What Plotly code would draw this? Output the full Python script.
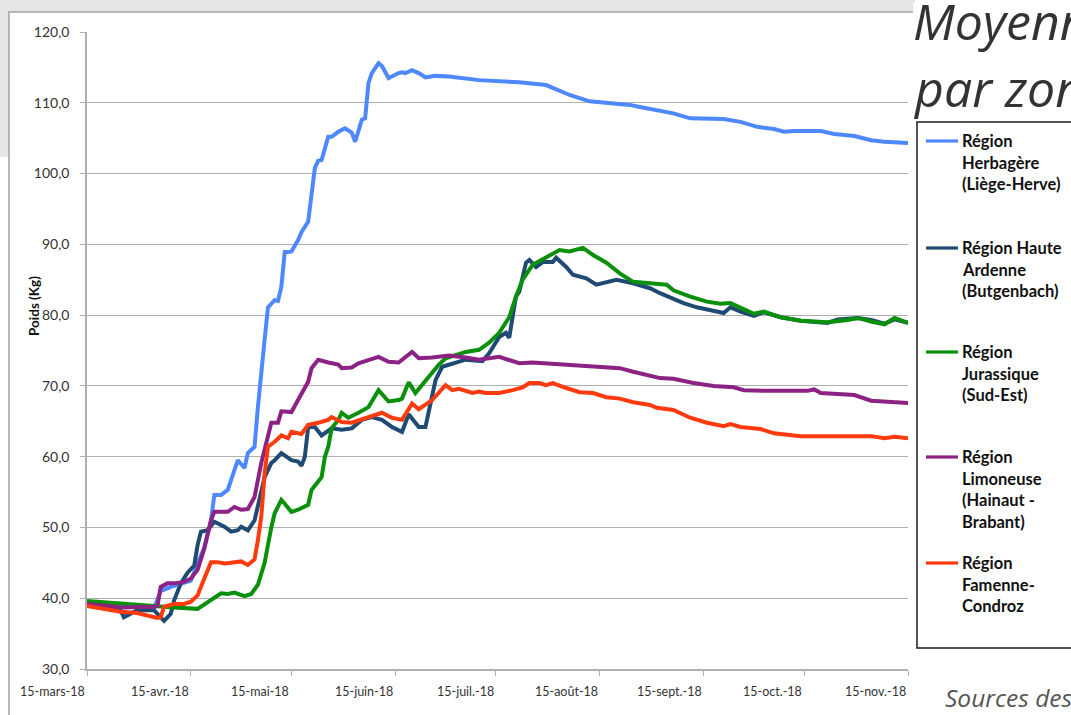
import plotly.graph_objects as go

# ---- data (poids moyen en kg) ----
herbagere_dates = ["03-15", "03-25", "04-04", "04-06", "04-09", "04-15", "04-19", "04-21", "04-22", "04-24",
                   "04-26", "04-27", "04-29", "05-01", "05-02", "05-04", "05-05", "05-07", "05-08", "05-10",
                   "05-11", "05-12", "05-13", "05-14", "05-15", "05-17", "05-18", "05-20", "05-21", "05-22",
                   "05-23", "05-24", "05-26", "05-27", "05-29", "05-31", "06-02", "06-03", "06-04", "06-05",
                   "06-06", "06-07", "06-08", "06-10", "06-11", "06-12", "06-13", "06-16", "06-17", "06-18",
                   "06-20", "06-22", "06-24", "06-27", "07-01", "07-10", "07-22", "07-30", "08-06", "08-12",
                   "08-18", "08-24", "08-27", "09-06", "09-11", "09-16", "09-21", "09-26", "10-01", "10-06",
                   "10-09", "10-12", "10-20", "10-24", "10-30", "11-04", "11-08", "11-15"]
herbagere_kg = [39.3, 38.9, 38.6, 41.0, 41.6, 42.5, 47.2, 51.0, 54.6, 54.6,
                55.3, 56.7, 59.5, 58.4, 60.5, 61.4, 67.0, 76.5, 81.1, 82.1,
                82.0, 84.0, 88.9, 88.9, 89.0, 90.6, 91.7, 93.2, 97.0, 100.8,
                101.8, 101.9, 105.2, 105.2, 105.9, 106.4, 105.8, 104.5, 106.0, 107.6,
                107.8, 112.8, 114.2, 115.6, 115.2, 114.3, 113.5, 114.2, 114.3, 114.2,
                114.6, 114.2, 113.6, 113.8, 113.7, 113.2, 112.9, 112.5, 111.1, 110.2,
                110.0, 109.7, 109.4, 108.5, 107.8, 107.7, 107.7, 107.3, 106.6, 106.3,
                105.9, 106.0, 106.0, 105.6, 105.3, 104.7, 104.5, 104.3]

ardenne_dates = ["03-15", "03-19", "03-25", "03-26", "03-30", "04-04", "04-07", "04-09", "04-10", "04-12",
                 "04-14", "04-16", "04-17", "04-18", "04-20", "04-22", "04-25", "04-27", "04-29", "04-30",
                 "05-02", "05-04", "05-05", "05-07", "05-09", "05-10", "05-12", "05-15", "05-17", "05-18",
                 "05-19", "05-20", "05-22", "05-24", "05-27", "05-30", "06-02", "06-05", "06-08", "06-11",
                 "06-14", "06-17", "06-19", "06-22", "06-24", "06-26", "06-27", "06-29", "07-01", "07-06",
                 "07-11", "07-13", "07-16", "07-18", "07-19", "07-21", "07-22", "07-24", "07-25", "07-27",
                 "07-29", "08-01", "08-02", "08-05", "08-07", "08-11", "08-14", "08-17", "08-20", "08-25",
                 "08-30", "09-02", "09-09", "09-13", "09-21", "09-23", "09-26", "09-30", "10-03", "10-08",
                 "10-14", "10-22", "10-25", "10-31", "11-04", "11-08", "11-11", "11-15"]
ardenne_kg = [39.5, 39.0, 38.3, 37.3, 38.3, 38.3, 36.8, 37.8, 39.7, 42.1,
              43.6, 44.6, 47.5, 49.4, 49.6, 50.8, 50.1, 49.4, 49.6, 50.1,
              49.6, 51.0, 52.9, 57.1, 59.1, 59.5, 60.5, 59.5, 59.3, 58.7,
              60.0, 64.2, 64.2, 63.0, 64.0, 63.8, 64.0, 65.2, 65.6, 65.2,
              64.2, 63.5, 66.0, 64.2, 64.2, 68.4, 70.8, 72.7, 73.0, 73.7,
              73.5, 74.6, 76.9, 77.5, 76.8, 82.6, 83.3, 87.4, 87.8, 86.8,
              87.5, 87.5, 88.1, 86.8, 85.7, 85.2, 84.3, 84.7, 85.0, 84.5,
              83.8, 83.1, 81.7, 81.1, 80.3, 81.1, 80.5, 79.9, 80.4, 79.7,
              79.2, 78.9, 79.4, 79.6, 79.3, 78.8, 79.4, 78.9]

jurassique_dates = ["03-15", "03-25", "04-04", "04-10", "04-17", "04-21", "04-24", "04-26", "04-28", "05-01",
                    "05-03", "05-05", "05-07", "05-09", "05-10", "05-12", "05-15", "05-17", "05-20", "05-21",
                    "05-24", "05-25", "05-26", "05-27", "05-29", "05-30", "06-01", "06-04", "06-07", "06-10",
                    "06-13", "06-16", "06-17", "06-19", "06-21", "06-25", "06-28", "06-30", "07-06", "07-10",
                    "07-13", "07-16", "07-19", "07-21", "07-23", "07-26", "07-30", "08-03", "08-06", "08-10",
                    "08-13", "08-17", "08-21", "08-25", "08-30", "09-04", "09-06", "09-11", "09-16", "09-20",
                    "09-23", "09-26", "09-30", "10-03", "10-08", "10-14", "10-22", "10-28", "10-31", "11-04",
                    "11-08", "11-11", "11-15"]
jurassique_kg = [39.6, 39.2, 38.8, 38.7, 38.5, 39.7, 40.7, 40.6, 40.8, 40.3,
                 40.6, 41.9, 45.0, 50.0, 52.0, 53.9, 52.2, 52.5, 53.2, 55.3,
                 57.1, 60.0, 61.4, 64.0, 65.2, 66.2, 65.5, 66.2, 67.0, 69.4,
                 67.8, 68.0, 68.2, 70.5, 69.0, 71.3, 73.0, 73.9, 74.8, 75.1,
                 76.1, 77.5, 79.7, 82.6, 85.0, 87.1, 88.2, 89.2, 89.0, 89.5,
                 88.5, 87.4, 85.9, 84.7, 84.5, 84.3, 83.5, 82.6, 81.9, 81.6,
                 81.7, 81.0, 80.2, 80.5, 79.7, 79.2, 79.0, 79.3, 79.6, 79.1,
                 78.7, 79.6, 78.9]

limoneuse_dates = ["03-15", "03-25", "04-04", "04-05", "04-06", "04-08", "04-10", "04-13", "04-15", "04-17",
                   "04-19", "04-21", "04-22", "04-26", "04-28", "04-30", "05-02", "05-04", "05-06", "05-08",
                   "05-09", "05-11", "05-12", "05-15", "05-17", "05-18", "05-20", "05-21", "05-23", "05-26",
                   "05-29", "05-30", "06-02", "06-04", "06-07", "06-10", "06-13", "06-16", "06-20", "06-22",
                   "06-26", "07-01", "07-06", "07-10", "07-16", "07-22", "07-26", "08-01", "08-09", "08-15",
                   "08-21", "08-25", "08-30", "09-02", "09-06", "09-12", "09-18", "09-24", "09-27", "10-04",
                   "10-16", "10-18", "10-20", "10-30", "11-04", "11-10", "11-15"]
limoneuse_kg = [39.2, 38.7, 38.8, 38.9, 41.6, 42.1, 42.1, 42.3, 42.8, 44.0,
                47.0, 51.0, 52.2, 52.2, 52.9, 52.5, 52.6, 54.3, 59.1, 63.0,
                64.8, 64.8, 66.4, 66.3, 68.0, 68.7, 70.6, 72.5, 73.7, 73.3,
                73.0, 72.5, 72.6, 73.2, 73.7, 74.1, 73.4, 73.3, 74.8, 73.9,
                74.0, 74.3, 74.0, 73.7, 74.1, 73.2, 73.3, 73.1, 72.8, 72.7,
                72.5, 72.0, 71.5, 71.1, 71.0, 70.4, 70.0, 69.8, 69.4, 69.3,
                69.3, 69.5, 69.0, 68.7, 67.9, 67.7, 67.6]

famenne_dates = ["03-15", "03-25", "03-30", "04-05", "04-06", "04-07", "04-10", "04-13", "04-15", "04-17",
                 "04-19", "04-21", "04-23", "04-25", "04-27", "04-30", "05-02", "05-04", "05-05", "05-06",
                 "05-07", "05-08", "05-10", "05-12", "05-14", "05-15", "05-18", "05-20", "05-23", "05-26",
                 "05-27", "05-30", "06-02", "06-07", "06-11", "06-14", "06-17", "06-20", "06-22", "06-26",
                 "06-30", "07-02", "07-04", "07-08", "07-10", "07-12", "07-16", "07-20", "07-23", "07-25",
                 "07-28", "07-30", "08-01", "08-05", "08-09", "08-13", "08-17", "08-21", "08-25", "08-30",
                 "09-01", "09-06", "09-11", "09-16", "09-21", "09-23", "09-26", "10-02", "10-06", "10-14",
                 "10-22", "10-30", "11-04", "11-08", "11-11", "11-15"]
famenne_kg = [38.9, 38.1, 37.9, 37.2, 37.3, 38.8, 39.2, 39.2, 39.5, 40.4,
              42.8, 45.1, 45.1, 44.9, 45.0, 45.2, 44.7, 45.5, 48.2, 51.5,
              57.6, 61.4, 62.1, 63.0, 62.6, 63.5, 63.2, 64.5, 64.8, 65.2,
              65.6, 64.9, 64.8, 65.6, 66.2, 65.5, 65.2, 67.5, 66.7, 68.0,
              70.1, 69.4, 69.6, 69.0, 69.2, 69.0, 69.0, 69.4, 69.8, 70.4,
              70.4, 70.1, 70.4, 69.7, 69.1, 69.0, 68.4, 68.2, 67.7, 67.3,
              66.9, 66.6, 65.5, 64.8, 64.3, 64.6, 64.2, 63.9, 63.3, 62.9,
              62.9, 63.0, 62.9, 62.6, 62.8, 62.6]

tick_dates = ["2018-03-15", "2018-04-15", "2018-05-15", "2018-06-15", "2018-07-15",
              "2018-08-15", "2018-09-15", "2018-10-15", "2018-11-15"]
tick_labels = ["15-mars-18", "15-avr.-18", "15-mai-18", "15-juin-18", "15-juil.-18",
               "15-août-18", "15-sept.-18", "15-oct.-18", "15-nov.-18"]

series = [
    ("Région<br>Herbagère<br>(Liège-Herve)", herbagere_dates, herbagere_kg, "#4d88ff"),
    ("Région Haute<br>Ardenne<br>(Butgenbach)", ardenne_dates, ardenne_kg, "#1f4a74"),
    ("Région<br>Jurassique<br>(Sud-Est)", jurassique_dates, jurassique_kg, "#0a900a"),
    ("Région<br>Limoneuse<br>(Hainaut -<br>Brabant)", limoneuse_dates, limoneuse_kg, "#8c2283"),
    ("Région<br>Famenne-<br>Condroz", famenne_dates, famenne_kg, "#ff3a0d"),
]

# ---- page geometry (px) ----
W, H = 1071, 715
ML, MR, MT, MB = 87, 163, 32, 46
PW, PH = W - ML - MR, H - MT - MB


def px(x):
    return (x - ML) / PW


def py(y):
    return (H - MB - y) / PH


FONT = "Lato"
GRID = "#b0b0b0"

fig = go.Figure()
for name, dates, vals, color in series:
    assert len(dates) == len(vals), name
    fig.add_trace(go.Scatter(
        x=["2018-" + d for d in dates],
        y=vals,
        name=name.replace("<br>", " "),
        mode="lines",
        line=dict(color=color, width=4),
        showlegend=False,
    ))

shapes = [
    # slide background band + chart frame
    dict(type="rect", xref="paper", yref="paper", x0=px(0), x1=px(915), y0=py(157), y1=py(0),
         fillcolor="#e6e6e6", line=dict(width=0), layer="below"),
    dict(type="rect", xref="paper", yref="paper", x0=px(9), x1=px(1090), y0=py(730), y1=py(12),
         fillcolor="white", line=dict(color="#a3a3a3", width=1.5), layer="below"),
    dict(type="rect", xref="paper", yref="paper", x0=px(913), x1=px(1090), y0=py(118), y1=py(3),
         fillcolor="white", line=dict(width=0), layer="below"),
    # legend box
    dict(type="rect", xref="paper", yref="paper", x0=px(917), x1=px(1090), y0=py(648), y1=py(122),
         fillcolor="white", line=dict(color="#1a1a1a", width=1.5), layer="below"),
]

annotations = []
entry_tops = [141, 248, 352, 457, 563]
line_step = 21.7
for (name, _, _, color), top in zip(series, entry_tops):
    shapes.append(dict(type="line", xref="paper", yref="paper", x0=px(926), x1=px(958),
                       y0=py(top), y1=py(top), line=dict(color=color, width=3.2)))
    for i, part in enumerate(name.split("<br>")):
        annotations.append(dict(
            text=part, xref="paper", yref="paper", x=px(960), y=py(top + i * line_step),
            xanchor="left", yanchor="middle", showarrow=False,
            font=dict(family=FONT, size=16.5, color="#111", weight="bold"),
        ))

# x tick labels: right-aligned on their tick like the original
for d, lab in zip(tick_dates, tick_labels):
    annotations.append(dict(
        text=lab, xref="x", yref="paper", x=d, y=py(692), xanchor="right", yanchor="middle",
        showarrow=False, font=dict(family=FONT, size=12.5, color="#333"),
    ))

annotations += [
    dict(text="Poids (Kg)", xref="paper", yref="paper", x=px(34), y=py(306), textangle=-90,
         xanchor="center", yanchor="middle", showarrow=False,
         font=dict(family=FONT, size=13.5, color="#111", weight="bold")),
    # slide title and source, cut by the right edge as in the original screenshot
    dict(text="Moyenne", xref="paper", yref="paper", x=px(911), y=py(21), xanchor="left",
         yanchor="middle", showarrow=False,
         font=dict(family="Open Sans", size=50, color="#333", style="italic")),
    dict(text="par zone", xref="paper", yref="paper", x=px(911), y=py(88), xanchor="left",
         yanchor="middle", showarrow=False,
         font=dict(family="Open Sans", size=50, color="#333", style="italic")),
    dict(text="Sources des", xref="paper", yref="paper", x=px(943), y=py(697), xanchor="left",
         yanchor="middle", showarrow=False,
         font=dict(family="Open Sans", size=24.5, color="#555", style="italic")),
]

fig.update_layout(
    width=W, height=H,
    margin=dict(l=ML, r=MR, t=MT, b=MB, pad=0),
    paper_bgcolor="white",
    plot_bgcolor="rgba(0,0,0,0)",
    separators=", ",
    showlegend=False,
    font=dict(family=FONT, color="#333"),
    xaxis=dict(
        type="date", range=["2018-03-15", "2018-11-15"],
        tickvals=tick_dates, showticklabels=False,
        ticks="outside", ticklen=5, tickwidth=1.3, tickcolor=GRID,
        showline=True, linecolor=GRID, linewidth=1.5,
        showgrid=False, zeroline=False,
    ),
    yaxis=dict(
        range=[30, 120], dtick=10, tick0=30, tickformat=".1f",
        ticks="outside", ticklen=5, tickwidth=1.3, tickcolor=GRID,
        showline=True, linecolor=GRID, linewidth=1.5,
        showgrid=True, gridcolor=GRID, gridwidth=1.3, zeroline=False,
        tickfont=dict(family=FONT, size=14, color="#333"),
        ticklabelstandoff=8,
    ),
    shapes=shapes,
    annotations=annotations,
)

fig.write_html(
    "out.html",
    config={"displayModeBar": False},
    post_script="document.body.style.margin='0';document.body.style.overflow='hidden';",
)
